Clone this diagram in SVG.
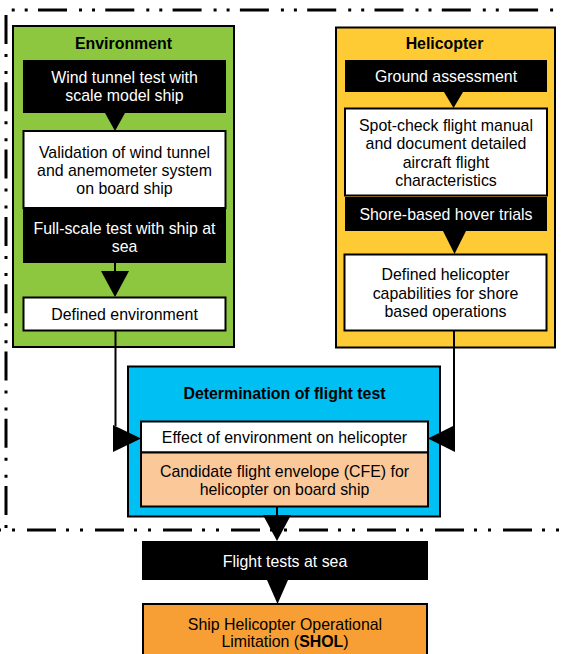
<svg xmlns="http://www.w3.org/2000/svg" width="561" height="654" viewBox="0 0 561 654">
  <style>
    text { font-family: "Liberation Sans", Arial, sans-serif; font-size: 15.9px; text-anchor: middle; }
    .hd { font-weight: bold; fill: #000; }
    .w { fill: #fff; }
    .k { fill: #000; }
    .frame { fill: none; stroke: #000; stroke-width: 3; }
    .panel { stroke: #000; stroke-width: 2; }
    .dark { fill: #000; }
    .light { fill: #fff; stroke: #000; stroke-width: 2; }
    .line { fill: none; stroke: #000; stroke-width: 2; }
    .head { fill: #000; }
  </style>

  <!-- dash-dot-dot boundary of the land/ship assessment stage -->
  <g id="boundary">
    <path class="frame" d="M-29.3,10 H561" stroke-dasharray="29 12 3 10 3 10.3"/>
    <path class="frame" d="M6,15 V528" stroke-dasharray="29 10 3 14 3 8.3"/>
    <path class="frame" d="M-41,530 H561" stroke-dasharray="29 10 3 11 3 12"/>
  </g>

  <!-- Environment panel -->
  <g id="environment">
    <rect class="panel" x="13" y="26" width="221" height="321" fill="#8DC63F"/>
    <text class="hd" x="123.5" y="48.5">Environment</text>
  </g>
  <g id="wind-tunnel">
    <rect class="dark" x="23" y="60" width="203" height="53"/>
    <text class="w" x="124.5" y="83">Wind tunnel test with</text>
    <text class="w" x="124.5" y="101">scale model ship</text>
  </g>
  <g id="validation">
    <rect class="light" x="23.5" y="131" width="202" height="77"/>
    <text class="k" x="124.5" y="158">Validation of wind tunnel</text>
    <text class="k" x="124.5" y="176">and anemometer system</text>
    <text class="k" x="124.5" y="194">on board ship</text>
  </g>
  <g id="full-scale">
    <rect class="dark" x="23" y="209" width="203" height="54"/>
    <text class="w" x="124.5" y="233.5">Full-scale test with ship at</text>
    <text class="w" x="124.5" y="251.5">sea</text>
  </g>
  <g id="defined-environment">
    <rect class="light" x="23.5" y="297.5" width="202" height="33"/>
    <text class="k" x="124.5" y="319.5">Defined environment</text>
  </g>

  <!-- Helicopter panel -->
  <g id="helicopter">
    <rect class="panel" x="336" y="27.5" width="219" height="320" fill="#FFCB35"/>
    <text class="hd" x="444.5" y="49">Helicopter</text>
  </g>
  <g id="ground-assessment">
    <rect class="dark" x="345" y="60" width="202" height="32"/>
    <text class="w" x="446" y="81.5">Ground assessment</text>
  </g>
  <g id="spot-check">
    <rect class="light" x="345" y="108.5" width="202" height="87"/>
    <text class="k" x="446" y="130.5">Spot-check flight manual</text>
    <text class="k" x="446" y="149">and document detailed</text>
    <text class="k" x="446" y="167.5">aircraft flight</text>
    <text class="k" x="446" y="185.5">characteristics</text>
  </g>
  <g id="hover-trials">
    <rect class="dark" x="345" y="197" width="202" height="34"/>
    <text class="w" x="446" y="220">Shore-based hover trials</text>
  </g>
  <g id="defined-helicopter">
    <rect class="light" x="344.5" y="254.5" width="202" height="76"/>
    <text class="k" x="445.5" y="280">Defined helicopter</text>
    <text class="k" x="445.5" y="298.5">capabilities for shore</text>
    <text class="k" x="445.5" y="317">based operations</text>
  </g>

  <!-- Determination of flight test panel -->
  <g id="determination">
    <rect class="panel" x="128" y="366.5" width="312" height="150" fill="#00BFF2"/>
    <text class="hd" x="284.5" y="399">Determination of flight test</text>
  </g>
  <g id="effect">
    <rect class="light" x="141" y="421.5" width="287" height="31"/>
    <text class="k" x="284.5" y="442.5">Effect of environment on helicopter</text>
  </g>
  <g id="candidate-envelope">
    <rect class="panel" x="141" y="452.5" width="287" height="54" fill="#FBC89A"/>
    <text class="k" x="284.5" y="476.5">Candidate flight envelope (CFE) for</text>
    <text class="k" x="284.5" y="494.5">helicopter on board ship</text>
  </g>

  <!-- Sea trials -->
  <g id="flight-tests">
    <rect class="dark" x="142" y="541" width="286" height="39"/>
    <text class="w" x="285" y="566.5">Flight tests at sea</text>
  </g>
  <g id="shol">
    <rect class="panel" x="143" y="604" width="284" height="60" fill="#F79E35"/>
    <text class="k" x="285" y="630">Ship Helicopter Operational</text>
    <text class="k" x="285" y="646.5">Limitation (<tspan font-weight="bold">SHOL</tspan>)</text>
  </g>

  <!-- Connectors -->
  <g id="connectors">
    <polygon class="head" points="105,113 125,113 115,131"/>
    <line class="line" x1="115" y1="263" x2="115" y2="272"/>
    <polygon class="head" points="101,271 129,271 115,297"/>
    <polygon class="head" points="444,92 463,92 453.5,108"/>
    <polygon class="head" points="443,231 466,231 454.5,254"/>
    <path class="line" d="M115.5,331 V426"/>
    <polygon class="head" points="113,425 141,438.5 113,452"/>
    <path class="line" d="M454,331 V426"/>
    <polygon class="head" points="455,425 428,438.5 455,452"/>
    <line class="line" x1="277" y1="507" x2="277" y2="516"/>
    <polygon class="head" points="263,515 291,515 277,541"/>
    <polygon class="head" points="267,580 288,580 277.5,604"/>
  </g>
</svg>
